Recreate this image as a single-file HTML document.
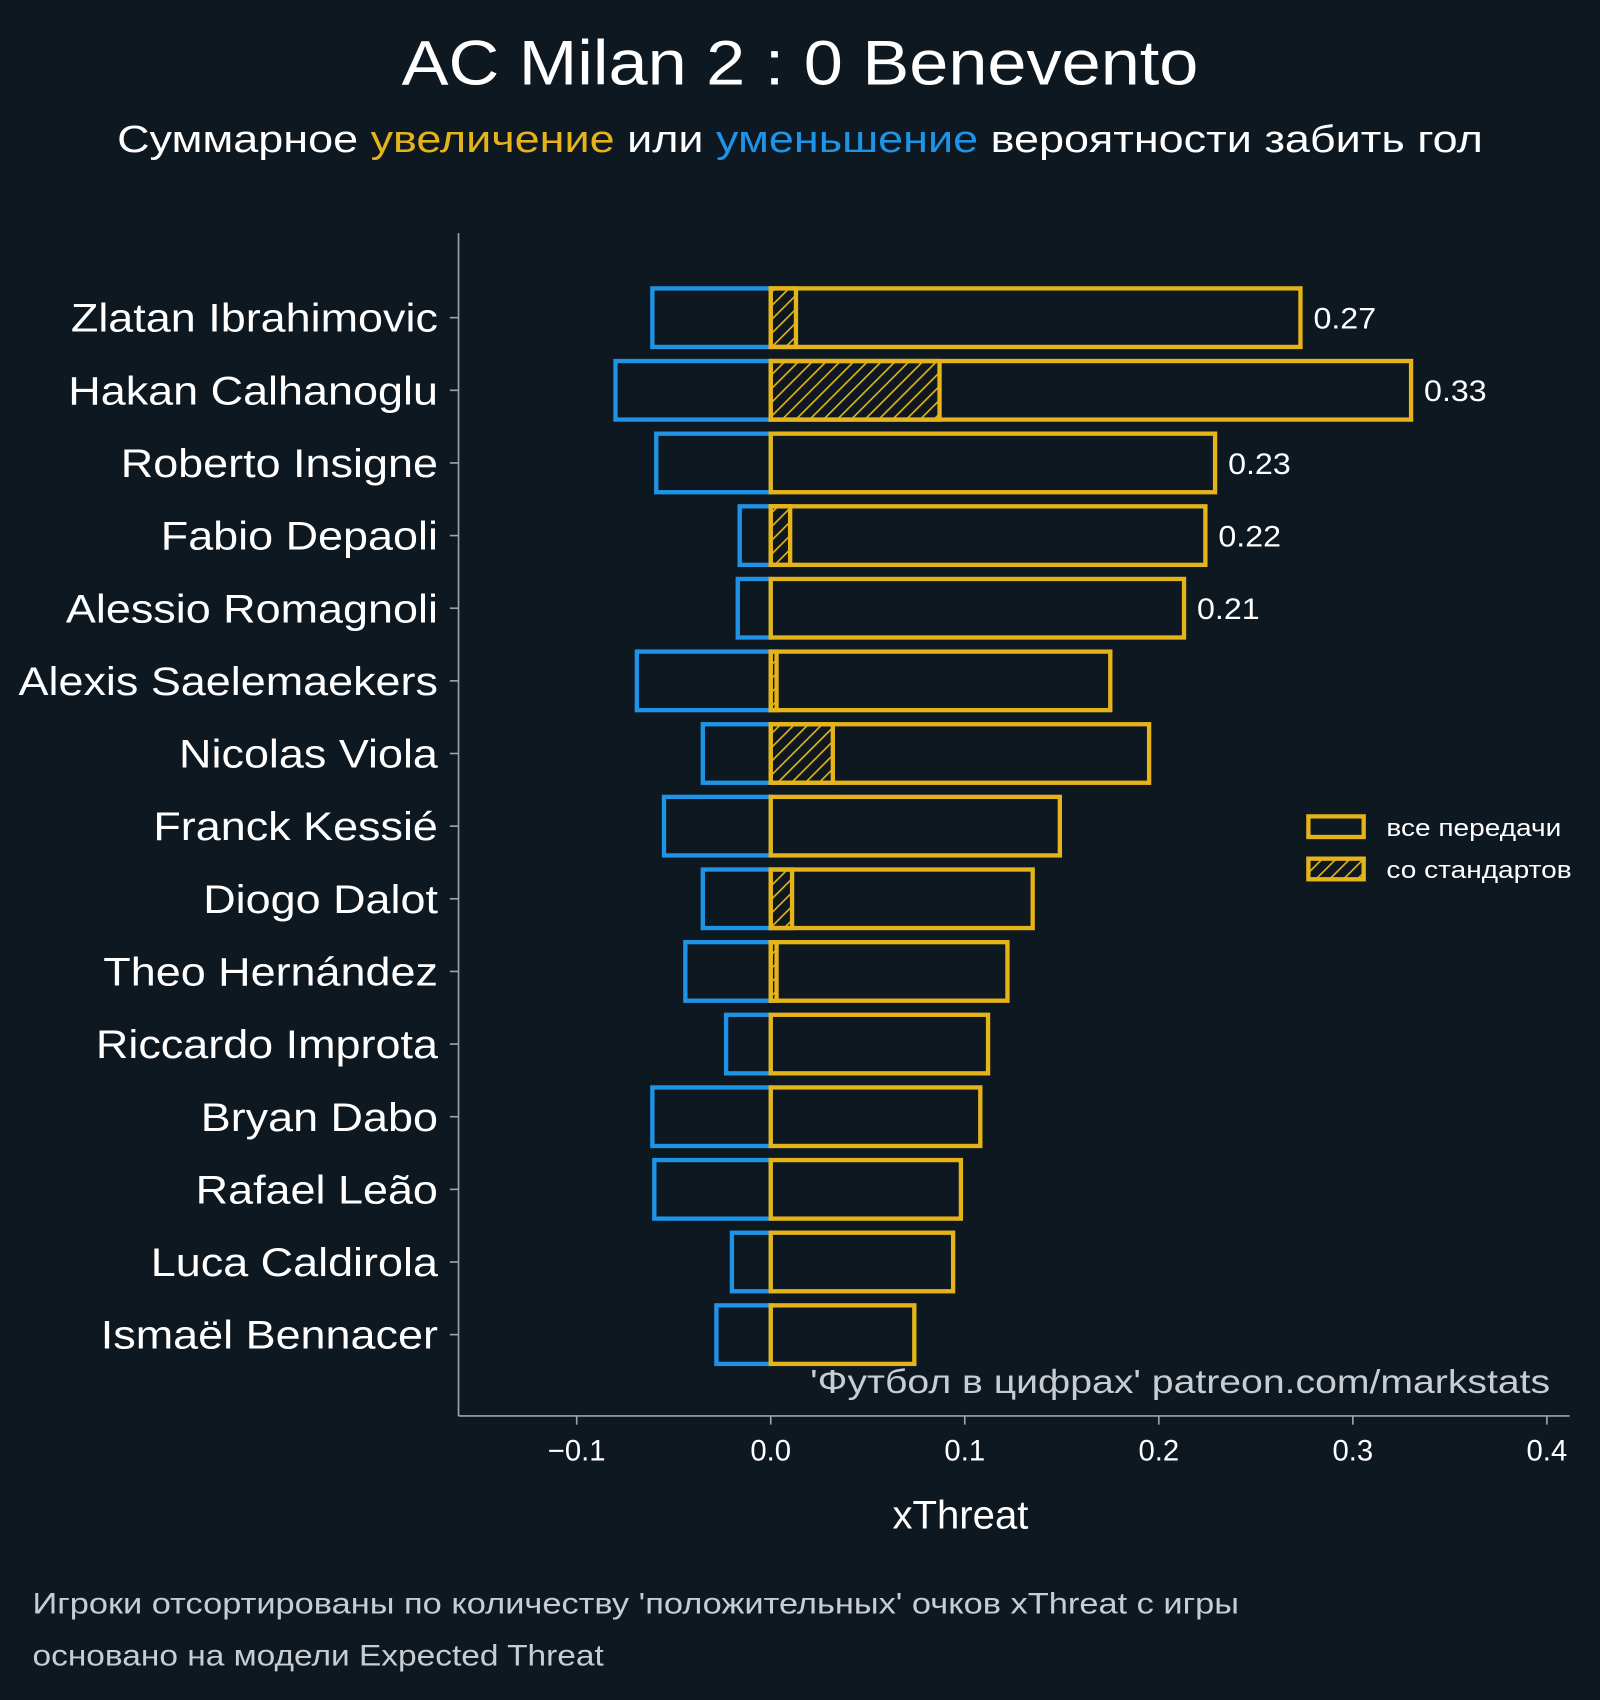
<!DOCTYPE html>
<html><head><meta charset="utf-8">
<style>
html,body{margin:0;padding:0;background:#0e1821;}
svg{display:block;}
text{font-family:"Liberation Sans","DejaVu Sans",sans-serif;}
</style></head>
<body>
<svg id="chart" width="1600" height="1700" viewBox="0 0 1476 1568" preserveAspectRatio="none" xmlns="http://www.w3.org/2000/svg">
<defs>
<pattern id="hatch" patternUnits="userSpaceOnUse" width="9" height="9" patternTransform="rotate(45)">
<rect width="9" height="9" fill="#0e1821"/>
<line x1="0" y1="0" x2="0" y2="9" stroke="#e5b31a" stroke-width="3"/>
</pattern>
</defs>
<rect width="1476" height="1568" fill="#0e1821"/>
<text x="738" y="78" text-anchor="middle" font-size="58" fill="#ffffff" textLength="735" lengthAdjust="spacingAndGlyphs">AC Milan 2 : 0 Benevento</text>
<text x="738" y="140" text-anchor="middle" font-size="35" fill="#ffffff" textLength="1260" lengthAdjust="spacingAndGlyphs">Суммарное <tspan fill="#e5b31a">увеличение</tspan> или <tspan fill="#1f94e6">уменьшение</tspan> вероятности забить гол</text>
<g id="bars"></g>
<g id="axes">
<line x1="423" y1="215" x2="423" y2="1306" stroke="#9aa5ad" stroke-width="1.5"/>
<line x1="423" y1="1306" x2="1448" y2="1306" stroke="#9aa5ad" stroke-width="1.5"/>
</g>
<text x="886" y="1410" text-anchor="middle" font-size="37" fill="#ffffff">xThreat</text>
<text class="stretch-wm" x="1430" y="1285" text-anchor="end" font-size="31" fill="#c8cdd1">'Футбол в цифрах' patreon.com/markstats</text>
<g>
<rect x="1207" y="753" width="51" height="19" fill="none" stroke="#e5b31a" stroke-width="4"/>
<text class="stretch-leg" x="1279" y="771" font-size="22" fill="#ffffff">все передачи</text>
<rect x="1207" y="792" width="51" height="19" fill="url(#hatch)" stroke="#e5b31a" stroke-width="4"/>
<text class="stretch-leg" x="1279" y="810" font-size="22" fill="#ffffff">со стандартов</text>
</g>
<text x="30" y="1488" font-size="27" fill="#c8cdd1" textLength="1113" lengthAdjust="spacingAndGlyphs">Игроки отсортированы по количеству 'положительных' очков xThreat с игры</text>
<text x="30" y="1536" font-size="27" fill="#c8cdd1" textLength="527" lengthAdjust="spacingAndGlyphs">основано на модели Expected Threat</text>
</svg>
<script>
const players = ["Zlatan Ibrahimovic","Hakan Calhanoglu","Roberto Insigne","Fabio Depaoli","Alessio Romagnoli","Alexis Saelemaekers","Nicolas Viola","Franck Kessié","Diogo Dalot","Theo Hernández","Riccardo Improta","Bryan Dabo","Rafael Leão","Luca Caldirola","Ismaël Bennacer"];
const positiveValues = [0.273,0.330,0.229,0.224,0.213,0.175,0.195,0.149,0.135,0.122,0.112,0.108,0.098,0.094,0.074];
const negativeValues = [-0.061,-0.080,-0.059,-0.016,-0.017,-0.069,-0.035,-0.055,-0.035,-0.044,-0.023,-0.061,-0.060,-0.020,-0.028];
const setPieceValues = [0.013,0.087,0,0.010,0,0.003,0.032,0,0.011,0.003,0,0,0,0,0];
const valueLabels = ["0.27","0.33","0.23","0.22","0.21","","","","","","","","","",""];
const xTicks = [-0.1,0.0,0.1,0.2,0.3,0.4];
const xTickLabels = ["−0.1","0.0","0.1","0.2","0.3","0.4"];

const NS = "http://www.w3.org/2000/svg";
function xScale(v){ return 711 + v * 1790; }
function yScale(i){ return 293 + i * 67; }
const barH = 54;
const bars = document.getElementById("bars");
const axes = document.getElementById("axes");
function mk(tag, attrs, parent){
  const e = document.createElementNS(NS, tag);
  for (const k in attrs) e.setAttribute(k, attrs[k]);
  parent.appendChild(e);
  return e;
}
function stretch(el, f){
  const w = el.getComputedTextLength();
  el.setAttribute("textLength", (w * f).toFixed(1));
  el.setAttribute("lengthAdjust", "spacingAndGlyphs");
}
players.forEach((p, i) => {
  const yc = yScale(i);
  const x0 = xScale(0);
  const xn = xScale(negativeValues[i]);
  const neg = mk("rect", {x: xn, y: yc - barH/2, width: x0 - xn, height: barH, fill: "none", stroke: "#1f94e6", "stroke-width": 4}, bars);
  
  
  if (setPieceValues[i] > 0) {
    const sp = mk("rect", {x: x0, y: yc - barH/2, width: xScale(setPieceValues[i]) - x0, height: barH, fill: "url(#hatch)", stroke: "#e5b31a", "stroke-width": 4}, bars);
    
    
  }
  const pos = mk("rect", {x: x0, y: yc - barH/2, width: xScale(positiveValues[i]) - x0, height: barH, fill: "none", stroke: "#e5b31a", "stroke-width": 4}, bars);
  
  
  if (valueLabels[i]) {
    const vl = mk("text", {x: xScale(positiveValues[i]) + 12, y: yc + 10, "font-size": 27, fill: "#ffffff"}, bars);
    vl.textContent = valueLabels[i];
    
    
    stretch(vl, 1.1);
  }
  const lab = mk("text", {x: 404, y: yc + 13, "text-anchor": "end", "font-size": 37, fill: "#ffffff"}, axes);
  lab.textContent = p;
  
  
  stretch(lab, 1.12);
  const tk = mk("line", {x1: 415, x2: 423, y1: yc, y2: yc, stroke: "#9aa5ad", "stroke-width": 1.5}, axes);
  
  
});
xTicks.forEach((t, i) => {
  const x = xScale(t);
  const tk = mk("line", {x1: x, x2: x, y1: 1306, y2: 1314, stroke: "#9aa5ad", "stroke-width": 1.5}, axes);
  
  
  const tl = mk("text", {x: x, y: 1347, "text-anchor": "middle", "font-size": 27, fill: "#ffffff"}, axes);
  tl.textContent = xTickLabels[i];
  
  
});
document.querySelectorAll(".stretch-leg").forEach(e => stretch(e, 1.175));
document.querySelectorAll(".stretch-wm").forEach(e => stretch(e, 1.166));
</script>
</body></html>
